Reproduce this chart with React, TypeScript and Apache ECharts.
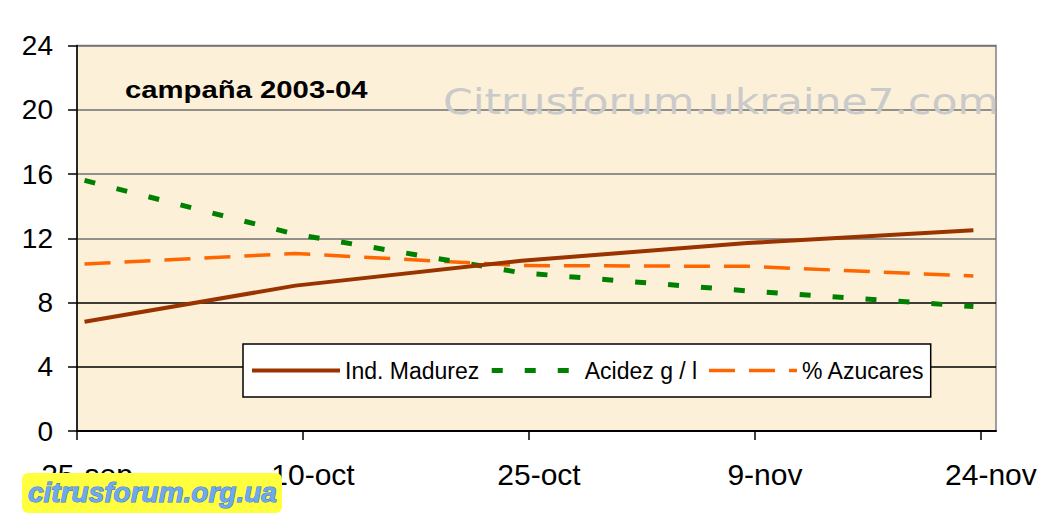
import React, { useEffect, useRef } from "react";
import * as echarts from "echarts";

// Days after 25-sep (Excel date axis, points at mid-day)
const sampleDays = [0.5, 14.5, 29.5, 44.5, 59.5];
const madurez = [6.8, 9.05, 10.6, 11.7, 12.5];
const acidez = [15.6, 12.25, 9.85, 8.72, 7.75];
const azucares = [10.4, 11.05, 10.3, 10.25, 9.65];

const tickDays = [0, 15, 30, 45, 60];
const tickLabels = ["25-sep", "10-oct", "25-oct", "9-nov", "24-nov"];

const seriesNames = ["Ind. Madurez", "Acidez g / l", "% Azucares"];
const FONT = '"Liberation Sans", Arial, sans-serif';

const pairs = (vals: number[]) => vals.map((v, i) => [sampleDays[i], v]);

export default function App() {
  const ref = useRef<HTMLDivElement>(null);
  useEffect(() => {
    if (!ref.current) return;
    const chart = echarts.init(ref.current, null, { renderer: "svg" });
    const styles = [
      { color: "#993300", width: 4, type: "solid" as any },
      { color: "#008000", width: 5, type: [11, 22] as any },
      { color: "#FF6600", width: 3.5, type: [26, 14] as any },
    ];
    const dataSets = [madurez, acidez, azucares];
    chart.setOption({
      animation: false,
      backgroundColor: "#ffffff",
      grid: {
        left: 77,
        right: 57,
        top: 45.5,
        bottom: 93,
        show: true,
        backgroundColor: "#FCF0D8",
        borderColor: "#808080",
        borderWidth: 1.5,
      },
      xAxis: {
        type: "value",
        min: 0,
        max: 61,
        axisLine: { show: true, lineStyle: { color: "#000", width: 2 } },
        axisTick: {
          show: true,
          length: 9,
          customValues: tickDays,
          lineStyle: { color: "#000", width: 1.5 },
        },
        axisLabel: {
          customValues: tickDays,
          formatter: (v: number) => {
            const i = tickDays.indexOf(v);
            return i >= 0 ? tickLabels[i] : "";
          },
          fontSize: 30,
          fontFamily: FONT,
          color: "#000",
          margin: 28,
          padding: [0, 0, 0, 20],
        },
        splitLine: { show: false },
      },
      yAxis: {
        type: "value",
        min: 0,
        max: 24,
        interval: 4,
        axisLine: { show: true, lineStyle: { color: "#000", width: 1.5 } },
        axisTick: { show: true, length: 9, lineStyle: { color: "#000", width: 1.5 } },
        axisLabel: {
          fontSize: 28,
          fontFamily: FONT,
          color: "#000",
          margin: 24,
        },
        splitLine: {
          show: true,
          lineStyle: {
            color: ["#000", "#000", "#000", "#707070", "#707070", "#707070", "#707070"],
            width: 1.5,
          },
        },
      },
      legend: {
        left: 243,
        top: 344,
        orient: "horizontal",
        backgroundColor: "#ffffff",
        borderColor: "#000",
        borderWidth: 1.5,
        borderRadius: 0,
        padding: [15, 6, 15, 7],
        itemWidth: 88,
        itemHeight: 25,
        itemGap: 10,
        textStyle: { fontSize: 23, fontFamily: FONT, color: "#000" },
        data: seriesNames.map((n, i) => ({
          name: n,
          lineStyle: { width: styles[i].width, type: styles[i].type, color: styles[i].color },
          itemStyle: {
            color: "rgba(0,0,0,0)",
            borderColor: "rgba(0,0,0,0)",
            borderWidth: 0,
            opacity: 0,
          },
        })),
      },
      graphic: [
        {
          type: "text",
          x: 125,
          y: 90,
          scaleX: 1.22,
          style: {
            text: "campaña 2003-04",
            font: `bold 24px ${FONT}`,
            fill: "#000",
            verticalAlign: "middle",
          },
          z: 10,
        },
        {
          type: "text",
          x: 443,
          y: 101,
          scaleX: 1.18,
          style: {
            text: "Citrusforum.ukraine7.com",
            font: '36px "DejaVu Sans", sans-serif',
            fill: "#cacaca",
            verticalAlign: "middle",
          },
          z: 10,
        },
        {
          type: "rect",
          shape: { x: 22, y: 473, width: 260, height: 40, r: 6 },
          style: { fill: "#FFFF40" },
          z: 20,
        },
        {
          type: "text",
          x: 28,
          y: 492,
          style: {
            text: "citrusforum.org.ua",
            font: `italic bold 28px ${FONT}`,
            fill: "#6FA8F2",
            stroke: "#3A6FC8",
            lineWidth: 1,
            verticalAlign: "middle",
          },
          z: 21,
        },
      ],
      series: seriesNames.map((n, i) => ({
        name: n,
        type: "line",
        data: pairs(dataSets[i]),
        symbol: "none",
        lineStyle: { color: styles[i].color, width: styles[i].width, type: styles[i].type },
        itemStyle: { color: styles[i].color },
        z: 3 - i,
      })),
    });
    return () => chart.dispose();
  }, []);
  return (
    <div
      ref={ref}
      style={{ position: "absolute", left: 0, top: 0, width: 1053, height: 524 }}
    />
  );
}
